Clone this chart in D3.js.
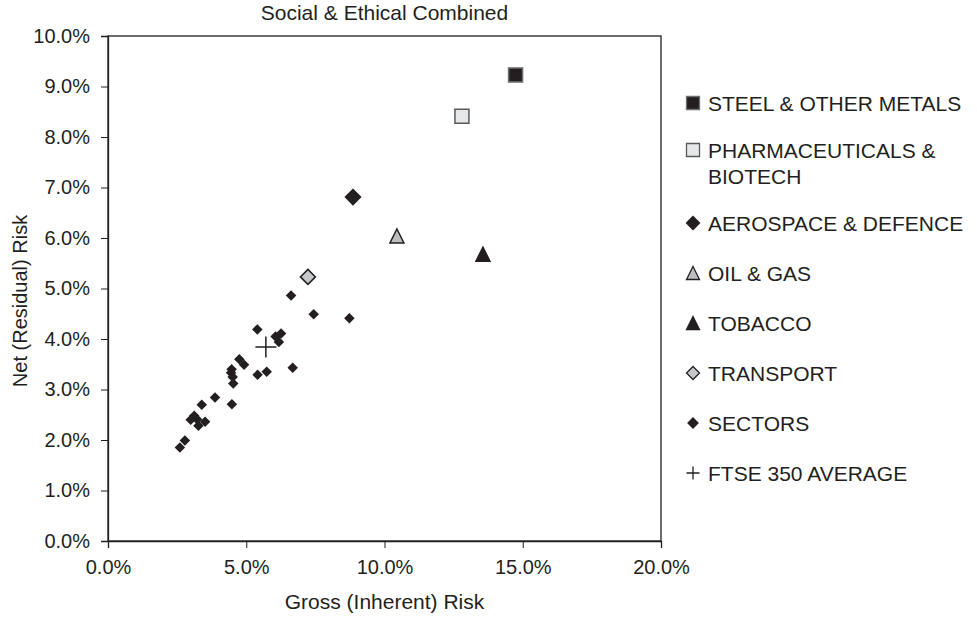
<!DOCTYPE html>
<html><head><meta charset="utf-8">
<script src="https://cdn.jsdelivr.net/npm/d3@7"></script>
<style>
html,body{margin:0;padding:0;background:#fff;}
text{font-family:Arial,"Liberation Sans",Helvetica,sans-serif;fill:#231f20;}
</style></head>
<body>
<svg id="chart" width="977" height="618"></svg>
<script>
// ---- data (percent values) ----
const xTicks = [0, 5, 10, 15, 20];
const yTicks = [0, 1, 2, 3, 4, 5, 6, 7, 8, 9, 10];
const sectorsX = [6.62, 7.44, 8.73, 5.40, 6.06, 6.26, 6.18, 4.75, 4.92, 4.47, 4.51, 4.53, 4.45, 5.41, 5.74, 6.68, 3.87, 3.39, 4.48, 2.99, 3.12, 3.27, 3.51, 3.22, 2.78, 2.60];
const sectorsY = [4.86, 4.49, 4.41, 4.19, 4.05, 4.11, 3.94, 3.60, 3.49, 3.40, 3.25, 3.12, 3.33, 3.29, 3.35, 3.43, 2.84, 2.70, 2.71, 2.40, 2.48, 2.28, 2.36, 2.41, 1.99, 1.85];
const highlightNames = ["STEEL & OTHER METALS", "PHARMACEUTICALS & BIOTECH", "AEROSPACE & DEFENCE", "OIL & GAS", "TOBACCO", "TRANSPORT"];
const highlightX = [14.74, 12.80, 8.86, 10.45, 13.56, 7.23];
const highlightY = [9.23, 8.41, 6.81, 6.04, 5.68, 5.23];
const ftseX = [5.71];
const ftseY = [3.84];
const legendLabels = [["STEEL & OTHER METALS"], ["PHARMACEUTICALS &", "BIOTECH"], ["AEROSPACE & DEFENCE"], ["OIL & GAS"], ["TOBACCO"], ["TRANSPORT"], ["SECTORS"], ["FTSE 350 AVERAGE"]];

// ---- styles ----
const DARK = "#231f20";
const styles = [
  {shape: "square", fill: DARK, stroke: "#6d6e71"},
  {shape: "square", fill: "#e6e7e8", stroke: "#58595b"},
  {shape: "diamond", fill: DARK, stroke: DARK},
  {shape: "triangle", fill: "#bcbec0", stroke: DARK},
  {shape: "triangle", fill: DARK, stroke: DARK},
  {shape: "diamond", fill: "#c7c8ca", stroke: DARK},
  {shape: "diamond", fill: DARK, stroke: DARK},
  {shape: "plus", fill: "none", stroke: DARK}
];

function shapePath(shape, s) {
  const h = s / 2;
  const p = d3.path();
  if (shape === "square") { p.rect(-h, -h, s, s); }
  else if (shape === "diamond") { p.moveTo(0, -h); p.lineTo(h, 0); p.lineTo(0, h); p.lineTo(-h, 0); p.closePath(); }
  else if (shape === "triangle") { p.moveTo(0, -h); p.lineTo(h, h); p.lineTo(-h, h); p.closePath(); }
  else if (shape === "plus") { p.moveTo(-h, 0); p.lineTo(h, 0); p.moveTo(0, -h); p.lineTo(0, h); }
  return p.toString();
}

const svg = d3.select("#chart");
const M = {left: 108, top: 36, right: 661, bottom: 541};
const x = d3.scaleLinear().domain([0, 20]).range([M.left, M.right]);
const y = d3.scaleLinear().domain([0, 10]).range([M.bottom, M.top]);
const fmt = d => d.toFixed(1) + "%";

// frame
svg.append("rect").attr("x", M.left).attr("y", M.top)
  .attr("width", M.right - M.left).attr("height", M.bottom - M.top)
  .attr("fill", "none").attr("stroke", DARK).attr("stroke-width", 1.3);

// axes
const xAxis = svg.append("g").attr("transform", `translate(0,${M.bottom})`)
  .call(d3.axisBottom(x).tickValues(xTicks).tickFormat(fmt).tickSize(7).tickPadding(12));
const yAxis = svg.append("g").attr("transform", `translate(${M.left},0)`)
  .call(d3.axisLeft(y).tickValues(yTicks).tickFormat(fmt).tickSize(7).tickPadding(11));
[xAxis, yAxis].forEach(g => {
  g.select(".domain").attr("stroke", DARK).attr("stroke-width", 1.3);
  g.selectAll(".tick line").attr("stroke", DARK).attr("stroke-width", 1);
  g.selectAll(".tick text").attr("font-size", 20).attr("fill", DARK)
    .attr("font-family", "Arial, 'Liberation Sans', sans-serif");
});

// titles
svg.append("text").attr("x", (M.left + M.right) / 2).attr("y", 20)
  .attr("text-anchor", "middle").attr("font-size", 21).text("Social & Ethical Combined");
svg.append("text").attr("x", (M.left + M.right) / 2).attr("y", 609)
  .attr("text-anchor", "middle").attr("font-size", 21).text("Gross (Inherent) Risk");
svg.append("text").attr("transform", "translate(27,301) rotate(-90)")
  .attr("text-anchor", "middle").attr("font-size", 20).text("Net (Residual) Risk");

// sector points
const sectors = sectorsX.map((v, i) => ({x: v, y: sectorsY[i]}));
svg.append("g").selectAll("path").data(sectors).join("path")
  .attr("transform", d => `translate(${x(d.x)},${y(d.y)})`)
  .attr("d", shapePath("diamond", 10.5)).attr("fill", DARK);

// highlighted sectors
const highlights = highlightNames.map((n, i) => ({name: n, x: highlightX[i], y: highlightY[i], st: styles[i]}));
svg.append("g").selectAll("path").data(highlights).join("path")
  .attr("transform", d => `translate(${x(d.x)},${y(d.y)})`)
  .attr("d", d => shapePath(d.st.shape, d.st.shape === "diamond" ? 15 : 14))
  .attr("fill", d => d.st.fill).attr("stroke", d => d.st.stroke).attr("stroke-width", 1.5);

// FTSE average
const ftse = ftseX.map((v, i) => ({x: v, y: ftseY[i]}));
svg.append("g").selectAll("path").data(ftse).join("path")
  .attr("transform", d => `translate(${x(d.x)},${y(d.y)})`)
  .attr("d", shapePath("plus", 21)).attr("stroke", DARK).attr("stroke-width", 1.5).attr("fill", "none");

// legend
const legendY = [103, 150, 223, 273, 323, 373, 423, 473];
const legendSize = [13, 13, 13, 13, 13, 13, 10, 13];
const lg = svg.append("g");
legendLabels.forEach((lines, i) => {
  const st = styles[i];
  lg.append("path").attr("transform", `translate(693,${legendY[i]})`)
    .attr("d", shapePath(st.shape, legendSize[i]))
    .attr("fill", st.fill).attr("stroke", st.stroke).attr("stroke-width", 1.3);
  const t = lg.append("text").attr("x", 708).attr("y", legendY[i] + 7.5).attr("font-size", 21);
  lines.forEach((ln, j) => t.append("tspan").attr("x", 708).attr("dy", j === 0 ? 0 : 26).text(ln));
});
</script>
</body></html>
